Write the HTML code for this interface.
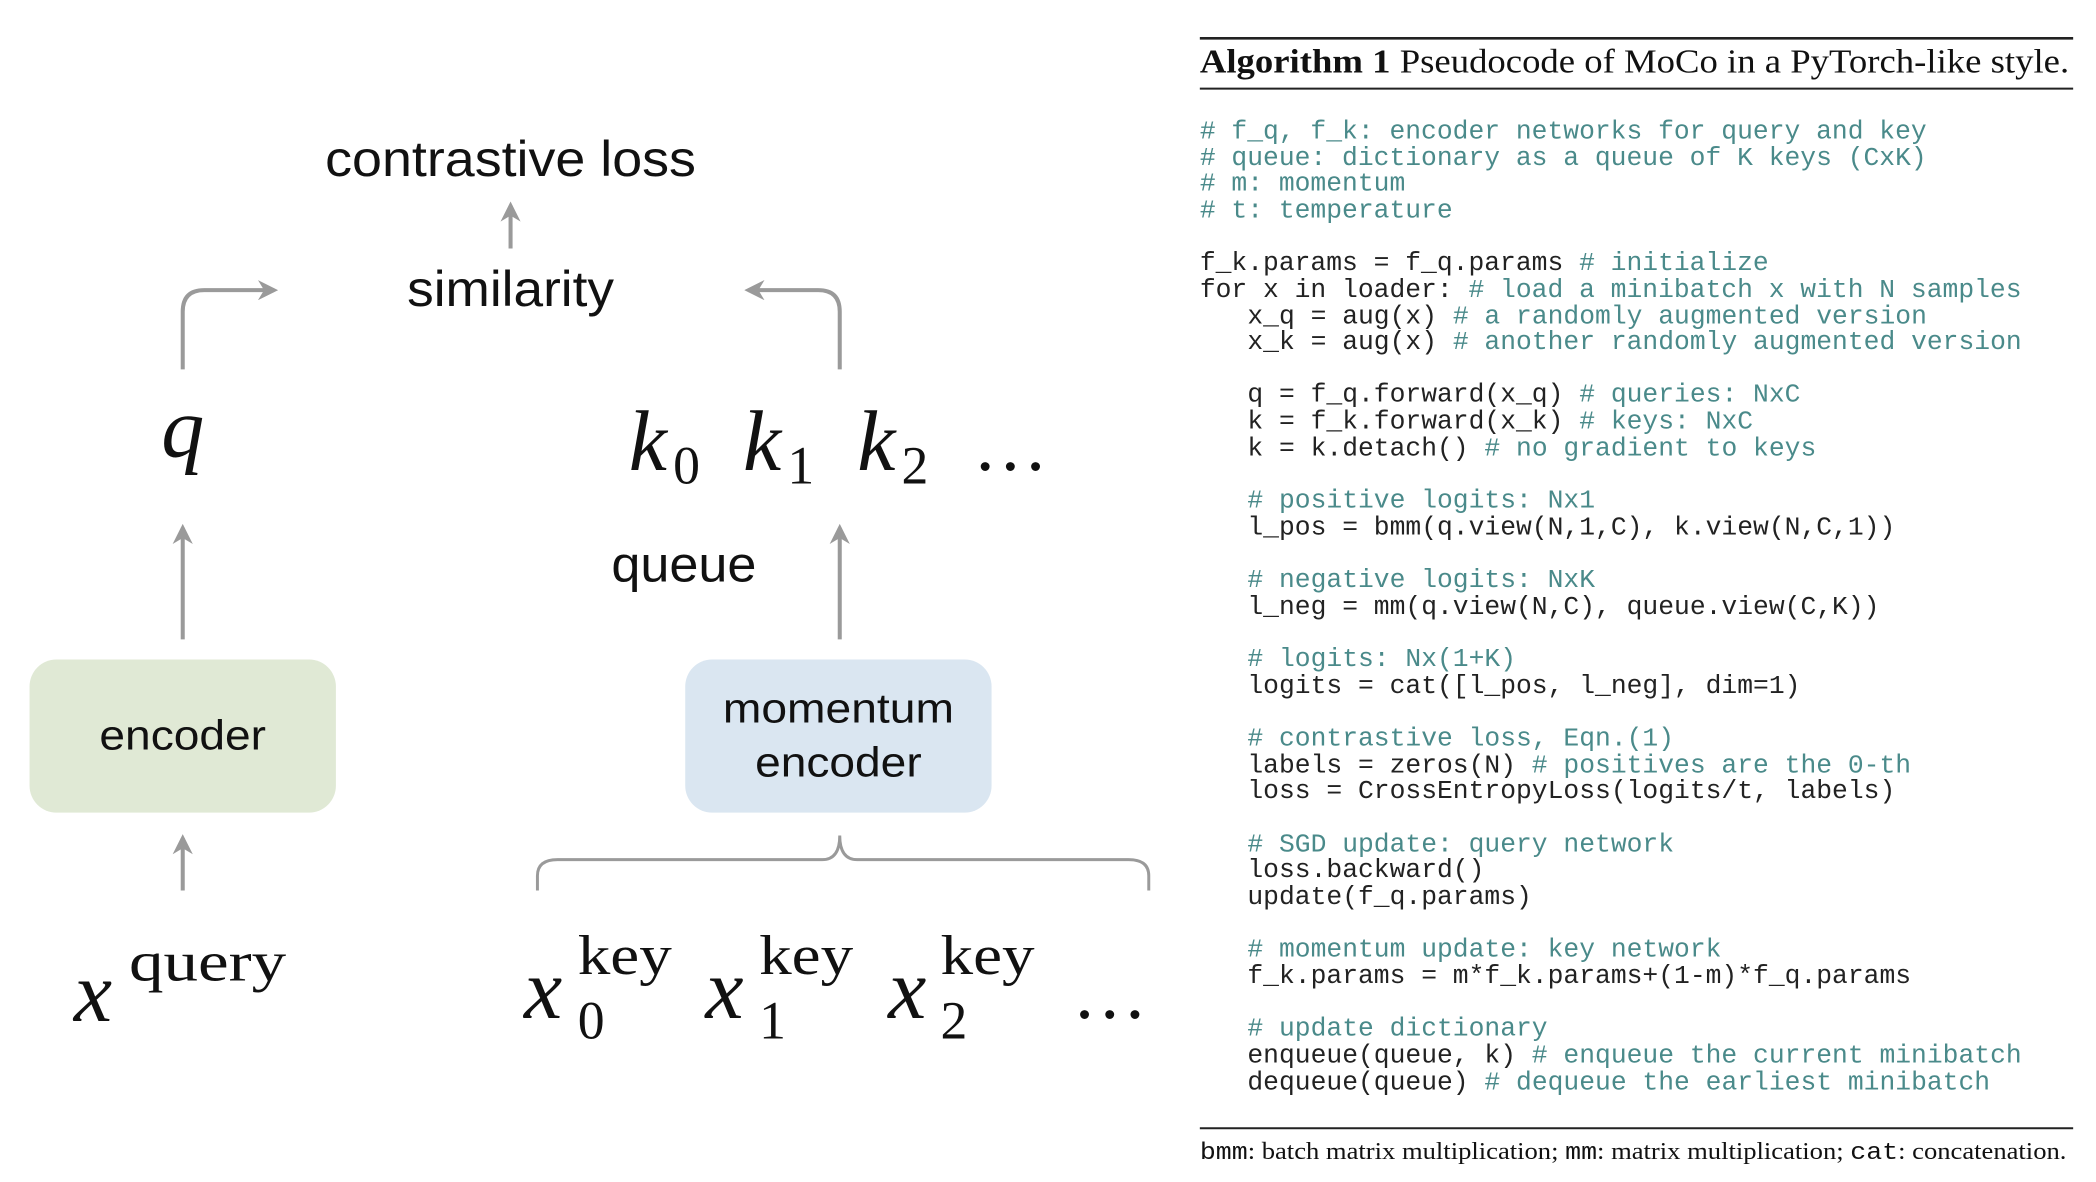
<!DOCTYPE html>
<html><head><meta charset="utf-8"><style>html,body{margin:0;padding:0;background:#fff}svg{display:block}</style></head>
<body>
<svg width="2096" height="1182" viewBox="0 0 1560 880" preserveAspectRatio="none" xmlns="http://www.w3.org/2000/svg">
<defs>
<marker id="ah" viewBox="0 0 10 10" refX="8" refY="5" markerWidth="5" markerHeight="5" orient="auto" markerUnits="strokeWidth">
<path d="M0,0 L10,5 L0,10 L3,5 z" fill="#9a9a9a"/></marker>
</defs>
<rect width="1560" height="880" fill="#fff"/>
<g font-family="Liberation Sans, sans-serif" fill="#111">
<text x="380" y="131" font-size="37" text-anchor="middle" textLength="276" lengthAdjust="spacingAndGlyphs">contrastive loss</text>
<text x="380" y="228" font-size="37" text-anchor="middle" textLength="154" lengthAdjust="spacingAndGlyphs">similarity</text>
<text x="509" y="433" font-size="37" text-anchor="middle" textLength="108" lengthAdjust="spacingAndGlyphs">queue</text>
</g>
<g stroke="#9a9a9a" stroke-width="3" fill="none">
<line x1="380" y1="185" x2="380" y2="153" marker-end="url(#ah)"/>
<path d="M136,275 V232 Q136,216 152,216 H204" marker-end="url(#ah)"/>
<path d="M625,275 V232 Q625,216 609,216 H557" marker-end="url(#ah)"/>
<line x1="136" y1="476" x2="136" y2="393" marker-end="url(#ah)"/>
<line x1="625" y1="476" x2="625" y2="393" marker-end="url(#ah)"/>
<line x1="136" y1="663" x2="136" y2="624" marker-end="url(#ah)"/>
<path d="M400,663 V652 Q400,640 415,640 H612 Q625,640 625,622 Q625,640 638,640 H840 Q855,640 855,652 V663" stroke-width="2.2"/>
</g>
<rect x="22" y="491" width="228" height="114" rx="20" fill="#e0e9d5"/>
<rect x="510" y="491" width="228" height="114" rx="20" fill="#dae6f1"/>
<g font-family="Liberation Sans, sans-serif" fill="#111" font-size="31" text-anchor="middle">
<text x="136" y="558" textLength="124" lengthAdjust="spacingAndGlyphs">encoder</text>
<text x="624" y="538" textLength="172" lengthAdjust="spacingAndGlyphs">momentum</text>
<text x="624" y="578" textLength="124" lengthAdjust="spacingAndGlyphs">encoder</text>
</g>
<g font-family="Liberation Serif, serif" fill="#111">
<text x="120" y="340" font-size="64" font-style="italic">q</text>
<text x="468" y="350" font-size="64" font-style="italic">k</text><text x="501" y="360" font-size="40">0</text>
<text x="553" y="350" font-size="64" font-style="italic">k</text><text x="586" y="360" font-size="40">1</text>
<text x="638" y="350" font-size="64" font-style="italic">k</text><text x="671" y="360" font-size="40">2</text>
<text x="724" y="350" font-size="56">…</text>
<text x="55" y="760" font-size="64" font-style="italic">x</text><text x="96" y="730" font-size="42" textLength="117" lengthAdjust="spacingAndGlyphs">query</text>
<text x="390" y="758" font-size="64" font-style="italic">x</text><text x="430" y="773" font-size="40">0</text><text x="430" y="725" font-size="42" textLength="70" lengthAdjust="spacingAndGlyphs">key</text>
<text x="525" y="758" font-size="64" font-style="italic">x</text><text x="565" y="773" font-size="40">1</text><text x="565" y="725" font-size="42" textLength="70" lengthAdjust="spacingAndGlyphs">key</text>
<text x="661" y="758" font-size="64" font-style="italic">x</text><text x="700" y="773" font-size="40">2</text><text x="700" y="725" font-size="42" textLength="70" lengthAdjust="spacingAndGlyphs">key</text>
<text x="798" y="758" font-size="56">…</text>
</g>
<line x1="893" y1="28.5" x2="1543" y2="28.5" stroke="#222" stroke-width="2"/>
<text x="893" y="54" font-family="Liberation Serif, serif" font-size="25" fill="#111" textLength="647" lengthAdjust="spacingAndGlyphs"><tspan font-weight="bold">Algorithm 1</tspan> Pseudocode of MoCo in a PyTorch-like style.</text>
<line x1="893" y1="66" x2="1543" y2="66" stroke="#222" stroke-width="1.5"/>
<g font-family="Liberation Mono, monospace" font-size="19.6" fill="#222">
<text x="893" y="103" fill="#4a8a8a"># f_q, f_k: encoder networks for query and key</text>
<text x="893" y="123" fill="#4a8a8a"># queue: dictionary as a queue of K keys (CxK)</text>
<text x="893" y="142" fill="#4a8a8a"># m: momentum</text>
<text x="893" y="162" fill="#4a8a8a"># t: temperature</text>
<text x="893" y="201">f_k.params = f_q.params <tspan fill="#4a8a8a"># initialize</tspan></text>
<text x="893" y="221">for x in loader: <tspan fill="#4a8a8a"># load a minibatch x with N samples</tspan></text>
<text x="928.4" y="241">x_q = aug(x) <tspan fill="#4a8a8a"># a randomly augmented version</tspan></text>
<text x="928.4" y="260">x_k = aug(x) <tspan fill="#4a8a8a"># another randomly augmented version</tspan></text>
<text x="928.4" y="299">q = f_q.forward(x_q) <tspan fill="#4a8a8a"># queries: NxC</tspan></text>
<text x="928.4" y="319">k = f_k.forward(x_k) <tspan fill="#4a8a8a"># keys: NxC</tspan></text>
<text x="928.4" y="339">k = k.detach() <tspan fill="#4a8a8a"># no gradient to keys</tspan></text>
<text x="928.4" y="378" fill="#4a8a8a"># positive logits: Nx1</text>
<text x="928.4" y="398">l_pos = bmm(q.view(N,1,C), k.view(N,C,1))</text>
<text x="928.4" y="437" fill="#4a8a8a"># negative logits: NxK</text>
<text x="928.4" y="457">l_neg = mm(q.view(N,C), queue.view(C,K))</text>
<text x="928.4" y="496" fill="#4a8a8a"># logits: Nx(1+K)</text>
<text x="928.4" y="516">logits = cat([l_pos, l_neg], dim=1)</text>
<text x="928.4" y="555" fill="#4a8a8a"># contrastive loss, Eqn.(1)</text>
<text x="928.4" y="575">labels = zeros(N) <tspan fill="#4a8a8a"># positives are the 0-th</tspan></text>
<text x="928.4" y="594">loss = CrossEntropyLoss(logits/t, labels)</text>
<text x="928.4" y="634" fill="#4a8a8a"># SGD update: query network</text>
<text x="928.4" y="653">loss.backward()</text>
<text x="928.4" y="673">update(f_q.params)</text>
<text x="928.4" y="712" fill="#4a8a8a"># momentum update: key network</text>
<text x="928.4" y="732">f_k.params = m*f_k.params+(1-m)*f_q.params</text>
<text x="928.4" y="771" fill="#4a8a8a"># update dictionary</text>
<text x="928.4" y="791">enqueue(queue, k) <tspan fill="#4a8a8a"># enqueue the current minibatch</tspan></text>
<text x="928.4" y="811">dequeue(queue) <tspan fill="#4a8a8a"># dequeue the earliest minibatch</tspan></text>
</g>
<line x1="893" y1="840" x2="1543" y2="840" stroke="#222" stroke-width="1.5"/>
<text x="893" y="863" font-family="Liberation Serif, serif" font-size="18" fill="#111" textLength="645" lengthAdjust="spacingAndGlyphs"><tspan font-family="Liberation Mono, monospace">bmm</tspan>: batch matrix multiplication; <tspan font-family="Liberation Mono, monospace">mm</tspan>: matrix multiplication; <tspan font-family="Liberation Mono, monospace">cat</tspan>: concatenation.</text>
</svg>
</body></html>
